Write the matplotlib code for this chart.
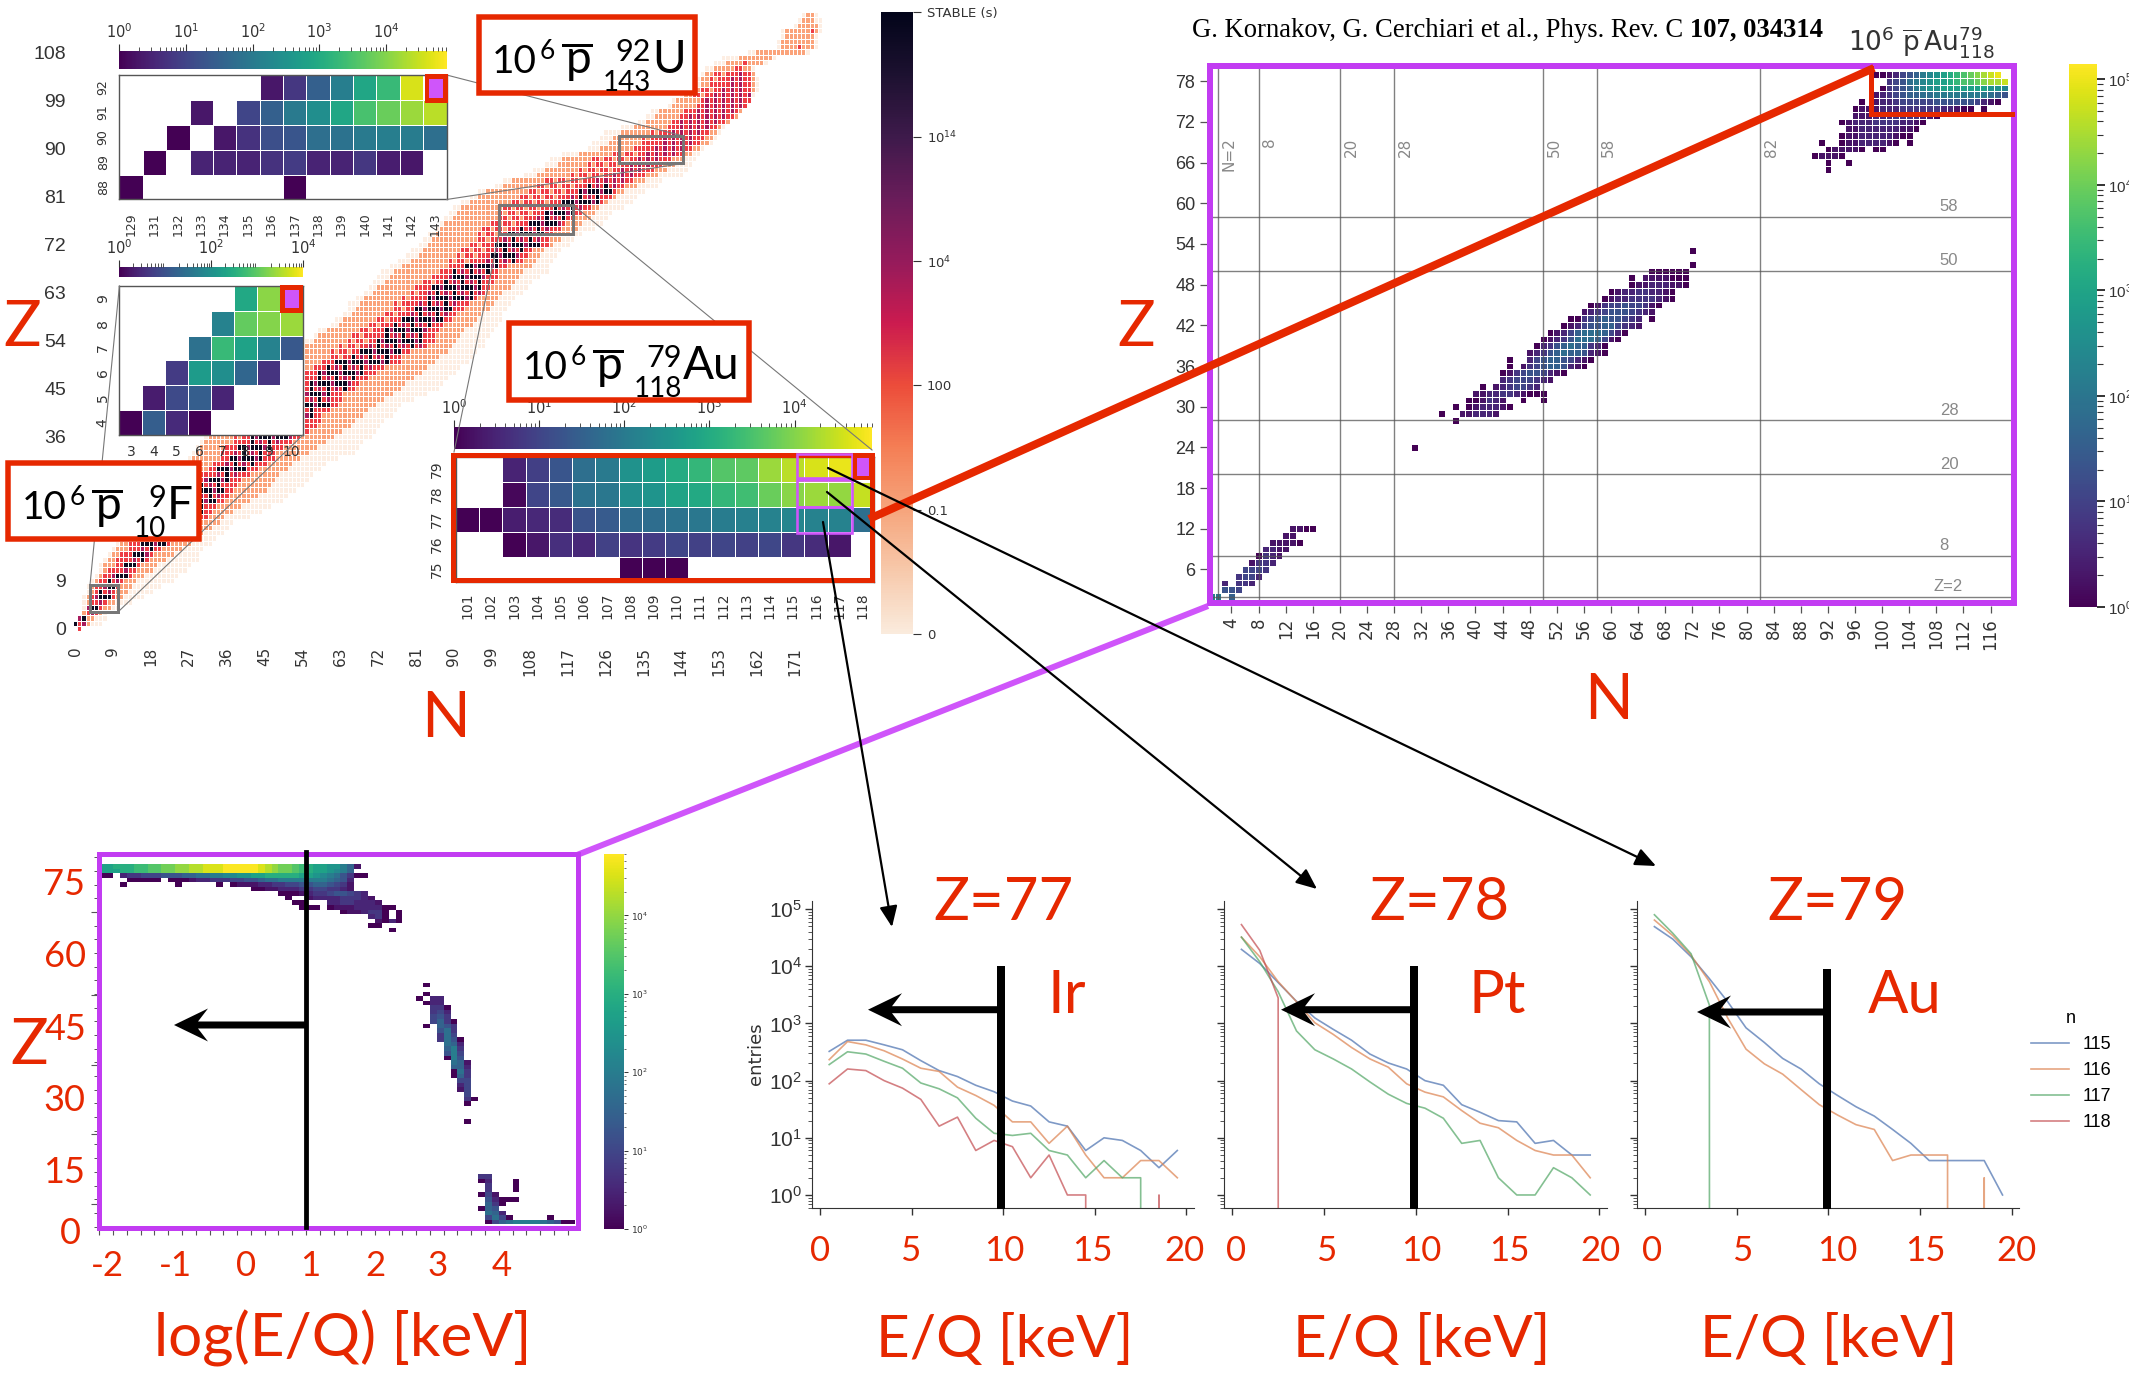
"""Composite figure: nuclide chart, fragment maps and E/Q spectra after 10^6 antiprotons."""

import matplotlib

matplotlib.use("Agg")

import matplotlib.pyplot as plt
import numpy as np
from matplotlib.cm import ScalarMappable
from matplotlib.colors import LinearSegmentedColormap, ListedColormap, LogNorm, Normalize
from matplotlib.font_manager import FontProperties
from matplotlib.patches import Polygon, Rectangle
from matplotlib.ticker import LogLocator, MultipleLocator, NullFormatter

W, H = 2129, 1376
RED = "#e62800"
PURPLE = "#c23cf2"
MAGENTA = "#cf55fa"
BIG = "Lato"
NARROW = ["Liberation Sans", "DejaVu Sans"]
plt.rcParams["mathtext.default"] = "regular"

# nuclide chart, one value per Z = 0..115: N limits of each lifetime band
chart_lo = [1, 0, 1, 2, 2, 2, 2, 3, 3, 4,
            5, 6, 6, 7, 8, 9, 10, 11, 12, 13,
            14, 15, 16, 17, 18, 19, 20, 21, 22, 24,
            25, 26, 27, 28, 29, 30, 31, 33, 34, 35,
            36, 37, 38, 39, 41, 42, 43, 44, 45, 46,
            48, 50, 52, 53, 55, 57, 58, 61, 62, 64,
            65, 65, 67, 69, 70, 71, 72, 73, 75, 77,
            79, 80, 82, 83, 84, 86, 87, 88, 89, 90,
            92, 94, 96, 100, 102, 107, 109, 112, 113, 116,
            122, 123, 125, 126, 130, 134, 136, 137, 141, 142,
            144, 146, 148, 148, 149, 150, 152, 154, 160, 167,
            167, 168, 168, 171, 172, 173]
chart_orange_lo = [1, 0, 1, 2, 3, 3, 3, 4, 4, 5,
                   6, 7, 7, 8, 9, 10, 11, 12, 13, 14,
                   15, 16, 17, 18, 19, 20, 21, 22, 23, 25,
                   26, 27, 28, 29, 30, 31, 32, 34, 35, 36,
                   37, 38, 39, 40, 42, 43, 44, 45, 47, 48,
                   50, 52, 53, 55, 57, 58, 60, 63, 64, 66,
                   67, 68, 69, 71, 72, 74, 75, 76, 78, 80,
                   82, 83, 84, 85, 86, 87, 88, 90, 91, 92,
                   94, 96, 98, 102, 104, 110, 112, 115, 116, 120,
                   125, 127, 128, 130, 133, 136, 138, 139, 142, 143,
                   145, 147, 149, 149, 150, 152, 155, 158, 162, 168,
                   168, 169, 169, 172, 173, 174]
chart_red_lo = [1, 0, 1, 3, 3, 4, 4, 5, 5, 6,
                7, 8, 9, 10, 11, 12, 13, 14, 15, 16,
                17, 18, 19, 20, 21, 22, 23, 24, 25, 27,
                32, 33, 34, 35, 36, 37, 38, 40, 41, 43,
                44, 45, 46, 47, 49, 50, 51, 52, 54, 56,
                58, 60, 61, 63, 65, 66, 68, 70, 71, 73,
                75, 76, 78, 80, 81, 82, 84, 86, 88, 89,
                91, 92, 94, 95, 96, 97, 98, 100, 101, 102,
                104, 105, 107, 110, 112, 118, 120, 122, 123, 128,
                132, 134, 135, 137, 140, 142, 144, 145, 148, 149,
                147, 149, 150, 151, 152, 156, 158, 200, 200, 172,
                200, 200, 175, 200, 200, 200]
chart_core_lo = [999, 0, 1, 3, 3, 5, 5, 6, 7, 8,
                 9, 11, 12, 13, 14, 15, 16, 18, 19, 20,
                 21, 23, 24, 26, 27, 28, 29, 30, 31, 33,
                 34, 35, 37, 38, 39, 41, 42, 44, 45, 47,
                 48, 50, 51, 52, 54, 55, 56, 57, 58, 60,
                 62, 66, 68, 70, 72, 73, 74, 76, 78, 80,
                 81, 82, 84, 84, 85, 88, 89, 90, 93, 98,
                 99, 100, 100, 101, 103, 106, 108, 110, 112, 113,
                 116, 118, 120, 122, 124, 128, 130, 132, 134, 136,
                 137, 139, 140, 142, 143, 144, 145, 147, 149, 150,
                 152, 154, 155, 156, 157, 999, 999, 999, 999, 999,
                 999, 999, 999, 999, 999, 999]
chart_core_hi = [0, 2, 2, 4, 5, 6, 8, 8, 9, 10,
                 12, 13, 14, 16, 17, 18, 21, 22, 24, 25,
                 27, 29, 30, 31, 33, 34, 35, 35, 36, 38,
                 40, 42, 44, 44, 46, 48, 51, 52, 54, 55,
                 56, 57, 60, 60, 60, 64, 65, 66, 68, 71,
                 74, 74, 77, 83, 82, 83, 83, 85, 87, 88,
                 89, 90, 94, 96, 96, 97, 97, 98, 100, 104,
                 105, 106, 110, 110, 111, 112, 115, 116, 118, 120,
                 124, 125, 127, 128, 130, 132, 134, 136, 138, 143,
                 145, 146, 147, 148, 150, 153, 155, 156, 158, 159,
                 160, 158, 158, 158, 158, 0, 0, 0, 0, 0,
                 0, 0, 0, 0, 0, 0]
chart_red_hi = [1, 2, 2, 5, 6, 7, 9, 9, 10, 11,
                13, 14, 15, 17, 18, 20, 22, 24, 25, 27,
                29, 31, 32, 33, 35, 36, 37, 38, 39, 41,
                43, 45, 47, 48, 50, 52, 54, 55, 57, 58,
                59, 60, 62, 63, 64, 66, 68, 70, 72, 74,
                77, 78, 79, 83, 85, 85, 86, 87, 89, 90,
                92, 93, 95, 97, 98, 99, 100, 101, 103, 106,
                107, 108, 112, 112, 113, 115, 116, 118, 120, 122,
                125, 127, 128, 130, 132, 135, 137, 139, 141, 144,
                146, 148, 149, 150, 152, 154, 156, 157, 159, 160,
                160, 160, 160, 160, 160, 159, 159, 0, 0, 172,
                0, 0, 175, 0, 0, 0]
chart_orange_hi = [1, 3, 4, 6, 8, 9, 11, 12, 13, 14,
                   16, 18, 19, 21, 23, 25, 27, 28, 30, 32,
                   34, 35, 37, 39, 41, 43, 45, 46, 47, 48,
                   50, 51, 53, 55, 57, 59, 61, 63, 65, 66,
                   68, 69, 71, 73, 75, 77, 78, 80, 82, 83,
                   85, 86, 88, 89, 90, 91, 92, 94, 95, 96,
                   98, 99, 100, 101, 103, 104, 105, 106, 108, 109,
                   110, 111, 113, 115, 117, 119, 120, 122, 123, 124,
                   126, 128, 130, 133, 135, 138, 140, 142, 144, 146,
                   148, 150, 151, 152, 153, 155, 157, 158, 159, 160,
                   160, 161, 161, 161, 161, 160, 163, 165, 173, 175,
                   175, 175, 176, 176, 175, 175]
chart_hi = [1, 6, 7, 7, 10, 13, 16, 18, 20, 23,
            24, 26, 27, 29, 29, 30, 32, 33, 35, 36,
            37, 41, 44, 46, 49, 50, 52, 54, 55, 56,
            58, 59, 62, 66, 67, 68, 70, 71, 72, 73,
            75, 76, 77, 80, 83, 86, 87, 88, 90, 91,
            93, 94, 95, 97, 97, 98, 99, 100, 101, 101,
            102, 103, 104, 106, 107, 108, 110, 112, 112, 113,
            114, 115, 117, 118, 120, 123, 125, 126, 127, 130,
            132, 133, 135, 138, 139, 144, 145, 146, 147, 148,
            149, 151, 152, 153, 154, 155, 157, 158, 159, 160,
            161, 162, 162, 162, 161, 161, 164, 166, 174, 176,
            176, 176, 177, 177, 177, 176]
lifetime_colors = ["#fdeee3", "#fba37a", "#ee3d45", "#a81b5d", "#0c0a20"]
lifetime_ticks = ["0", "0.1", "100", "$10^{4}$", "$10^{14}$", "STABLE (s)"]

# U inset (rows top to bottom, 0 = empty, -1 = selected isotope)
u_z = [92, 91, 90, 89, 88]
u_n = [129, 131, 132, 133, 134, 135, 136, 137, 138, 139, 140, 141, 142, 143]
u_counts = [
    [0, 0, 0, 0, 0, 0, 2, 6, 30, 120, 800, 2000, 40000, -1],
    [0, 0, 0, 2, 0, 10, 30, 100, 250, 800, 3000, 6000, 15000, 25000],
    [0, 0, 1, 0, 2, 5, 15, 20, 60, 70, 100, 120, 110, 60],
    [0, 1, 0, 3, 3, 3, 5, 7, 3, 3, 6, 2.5, 2, 0],
    [1, 0, 0, 0, 0, 0, 0, 1, 0, 0, 0, 0, 0, 0],
]

# F inset
f_z = [9, 8, 7, 6, 5, 4]
f_n = [3, 4, 5, 6, 7, 8, 9, 10]
f_counts = [
    [0, 0, 0, 0, 0, 250, 2000, -1],
    [0, 0, 0, 0, 60, 1100, 1800, 2500],
    [0, 0, 0, 30, 500, 200, 60, 12],
    [0, 0, 5, 150, 90, 20, 4, 0],
    [0, 2, 8, 15, 2.5, 0, 0, 0],
    [1, 15, 3, 1, 0, 0, 0, 0],
]

# Au inset
au_inset_z = [79, 78, 77, 76, 75]
au_inset_n = list(range(101, 119))
au_inset_counts = [
    [0, 0, 3, 8, 20, 60, 100, 300, 500, 1000, 1800, 4000, 5000, 15000, 25000, 40000, 55000, -1],
    [0, 0, 1.2, 10, 22, 70, 90, 250, 350, 700, 900, 1800, 2500, 6000, 11000, 15000, 13000, 30000],
    [1, 1, 2.5, 3.5, 4, 18, 25, 50, 55, 70, 90, 110, 130, 150, 170, 150, 150, 60],
    [0, 0, 1, 2, 4.5, 3.5, 9, 5.5, 7, 10, 9, 10, 9, 11, 6, 4, 2, 0],
    [0, 0, 0, 0, 0, 0, 0, 1, 1, 1, 0, 0, 0, 0, 0, 0, 0, 0],
]

# Z-N map of the fragments: base-36 brightness code per cell, blank = no entries
map_z = [79, 78, 77, 76, 75, 74, 73, 72, 71, 70, 69, 68, 67, 66, 65,
         53, 51, 50, 49, 48, 47, 46, 45, 44, 43, 42, 41, 40, 39, 38, 37, 36, 35, 34, 33, 32, 31, 30, 29, 28, 24,
         12, 11, 10, 9, 8, 7, 6, 5, 4, 3, 2]
map_start = [99, 101, 100, 99, 97, 96, 96, 94, 95, 94, 91, 92, 90, 92, 92,
             72, 72, 66, 63, 63, 60, 59, 57, 56, 54, 53, 51, 50, 49, 48, 45, 45, 44, 44, 41, 40, 39, 37, 35, 37, 31,
             13, 12, 10, 9, 8, 7, 6, 5, 3, 3, 1]
map_levels = ["001245689abcdefghij", "345789abbcdeefghhi", "0345689aabbbbbbbaa9",
              "12345667788888888765", "0 1223444445555554210", "011122233333322100 0",
              "1112223333210", "0122233332210", "11222222110", "01122222100",
              "0  011222210 0", "011110 00", "01110", "0  0", "0",
              "0", "0", "000000", "0 1111000", "011222110", "0122332210", "01223333210",
              "01344544310", "12345554321", "00345655432 0", "012455664321", "012467776420",
              "012357776410", "02356766320", "123567665210", "0  2456654210", "0 1345665210",
              "0134554210", "23444321", "0 1234432", "11223321000", "001321  0  0",
              "0 0122210", "0  112221", "0", "0",
              "1100", "11", "11110", "2211", "0321", "1332", "4443", "3442", "2 332", "554", "88 6"]
magic_numbers = [2, 8, 20, 28, 50, 58, 82]
magic_z = [2, 8, 20, 28, 50, 58]

# log(E/Q)-Z map, 0.1 wide bins starting at -2
log_z = [79, 78, 77, 76, 75, 74, 73, 72, 71, 70, 69, 68, 67, 66, 65,
         53, 51, 50, 49, 48, 47, 46, 45, 44, 43, 42, 41, 40, 39, 38, 37, 36, 35, 34, 33, 32, 31, 30, 29, 28, 27, 23,
         11, 10, 9, 8, 7, 6, 5, 4, 3, 2, 1]
log_start = [0, 0, 0, 0, 0, 22, 26, 27, 28, 29, 35, 39, 40, 39, 42,
             47, 47, 46, 47, 48, 48, 48, 48, 47, 49, 49, 49, 50, 50, 50, 50, 51, 51, 51, 51, 52, 52, 52, 53, 53, 53, 53,
             55, 55, 56, 56, 55, 56, 56, 55, 56, 56, 56]
log_levels = ["bbcccddeeffgghhiiijjjjjihgffedcbbaa861", "bbbccddeeffgghhiiijjjjjihgffedcbba986",
              "00 23344455566778899aabbcccccbba9875300",
              "    00000 000122333445567788888887652", "   0       0     0 011122334455665431",
              "001122233443321", "0001233455432", "0  1222233321", "00   22332221", "000 0111222200",
              "0112330 0", "230 0", "1020", "00", "0",
              "0", "0", "0 22", "022", "330", "342", "453", "4630", "0 653", "573", "374", "3750",
              "762", "683", "584", "085", "761", "662", "073", "063", "44", "24", "14", "4", "30", "0", "0",
              "33", "02   0", "3   0", "3   0", "041", "52000", "630", "065", "762", "4740     0", "0467888876500"]
log_major_z = [68.9, 50.7, 35.4, 20.2, 4.9]

# E/Q spectra, bins 0.5 .. 19.5 keV, series by neutron number (0 = empty bin)
eq_bins = [0.5, 1.5, 2.5, 3.5, 4.5, 5.5, 6.5, 7.5, 8.5, 9.5, 10.5, 11.5, 12.5, 13.5, 14.5, 15.5, 16.5, 17.5, 18.5, 19.5]
eq_names = ["115", "116", "117", "118"]
eq_colors = ["#4c72b0", "#dd8452", "#55a868", "#c44e52"]
ir_115 = [325, 510, 510, 423, 347, 224, 150, 118, 83, 64, 44, 36, 19, 16, 6, 10, 9, 6, 3, 6]
ir_116 = [233, 483, 423, 333, 239, 165, 145, 77, 55, 37, 19, 19, 8, 16, 5, 2, 2, 4, 4, 2]
ir_117 = [191, 320, 292, 218, 165, 91, 72, 50, 22, 12, 11, 12, 6, 5, 2, 4, 2, 2, 0, 0]
ir_118 = [88, 160, 150, 100, 74, 47, 16, 23, 6, 9, 7, 2, 5, 1, 1, 0, 0, 0, 1, 0]
pt_115 = [19800, 11200, 5200, 2440, 1250, 790, 510, 292, 204, 160, 100, 83, 38, 28, 20, 19, 8, 9, 5, 5]
pt_116 = [32400, 14700, 5400, 2400, 1030, 645, 380, 240, 172, 88, 63, 52, 30, 18, 15, 9, 6, 5, 5, 2]
pt_117 = [32400, 12000, 3600, 740, 347, 240, 160, 95, 58, 40, 33, 22, 8, 9, 2, 1, 1, 3, 2, 1]
pt_118 = [53700, 19000, 2800, 0, 0, 0, 0, 0, 0, 0, 0, 0, 0, 0, 0, 0, 0, 0, 0, 0]
au_115 = [49500, 30000, 14700, 6100, 2400, 840, 465, 245, 160, 88, 55, 35, 24, 14, 8, 4, 4, 4, 4, 1]
au_116 = [64500, 34500, 15600, 5400, 1250, 356, 197, 130, 70, 38, 25, 17, 14, 4, 5, 5, 5, 0, 2, 0]
au_117 = [79900, 38000, 16600, 2100, 0, 0, 0, 0, 0, 0, 0, 0, 0, 0, 0, 0, 0, 0, 0, 0]
au_118 = [0, 0, 0, 0, 0, 0, 0, 0, 0, 0, 0, 0, 0, 0, 0, 0, 0, 0, 0, 0]


def px_axes(x0, y0, x1, y1, zorder=1):
    return fig.add_axes([x0 / W, 1 - y1 / H, (x1 - x0) / W, (y1 - y0) / H], zorder=zorder)


def px(width):
    return width * 0.72


def code_grid(zs, starts, rows, n_min, n_max, z_min, z_max):
    grid = np.full((z_max - z_min + 1, n_max - n_min + 1), np.nan)
    for z, start, row in zip(zs, starts, rows):
        for i, char in enumerate(row):
            if char != " ":
                grid[z - z_min, start + i - n_min] = int(char, 36)
    return grid


def log_colorbar(cax, norm, orientation, size, color="#333333"):
    bar = fig.colorbar(ScalarMappable(norm, "viridis"), cax=cax, orientation=orientation)
    bar.outline.set_visible(False)
    axis = cax.xaxis if orientation == "horizontal" else cax.yaxis
    axis.set_major_locator(LogLocator(base=10, numticks=8))
    axis.set_minor_locator(LogLocator(base=10, subs=range(2, 10), numticks=8))
    axis.set_minor_formatter(NullFormatter())
    cax.tick_params(which="both", colors=color, labelsize=size)
    return bar


def inset(rect, bar_rect, counts, cols, rows, vmax, major, row_x, col_y, size):
    x0, y0, x1, y1 = rect
    ax = px_axes(x0, y0, x1, y1, zorder=3)
    data = np.array(counts, dtype=float)
    data[data == 0] = np.nan
    data[data == -1] = np.nan
    norm = LogNorm(1, vmax)
    ax.pcolormesh(np.ma.masked_invalid(data), cmap="viridis", norm=norm, edgecolors="white", linewidth=0.6)
    ax.invert_yaxis()
    ax.set_xticks(np.arange(len(cols)) + 0.5, [str(c) for c in cols], rotation=90 if cols[0] > 50 else 0, fontsize=size, color="#333333")
    ax.set_yticks(np.arange(len(rows)) + 0.5, [str(r) for r in rows], rotation=90, va="center", fontsize=size, color="#333333")
    ax.tick_params(length=0, pad=(row_x))
    ax.tick_params(axis="x", pad=col_y)
    for spine in ax.spines.values():
        spine.set_color("#555555")
        spine.set_linewidth(1)
    cax = px_axes(*bar_rect, zorder=3)
    log_colorbar(cax, norm, "horizontal", 10.5)
    cax.xaxis.set_ticks_position("top")
    cax.xaxis.set_major_locator(LogLocator(base=10, subs=(1,), numticks=major))
    cax.tick_params(which="major", length=5, width=0.8, pad=2)
    cax.tick_params(which="minor", length=3, width=0.6)
    return ax


def boxed_label(x0, y0, x1, y1, sup, sub, symbol, sym_x):
    over.add_patch(Rectangle((x0 + 2.5, y0 + 2.5), x1 - x0 - 5, y1 - y0 - 5, fc="white", ec=RED, lw=px(5.5), zorder=5))
    base = y0 + 58
    over.text(x0 + 16, base, "10", family=BIG, fontsize=28, va="baseline", zorder=6)
    over.text(x0 + 64, y0 + 44, "6", family=BIG, fontsize=19, va="baseline", zorder=6)
    over.plot([x0 + 87, x0 + 115], [y0 + 30, y0 + 30], color="black", lw=px(3), zorder=6)
    over.text(x0 + 90, base, "p", family=BIG, fontsize=33, va="baseline", zorder=6)
    over.text(x0 + sym_x - 1, y0 + 46, sup, family=BIG, fontsize=22, va="baseline", ha="right", zorder=6)
    over.text(x0 + sym_x - 1, y0 + 76, sub, family=BIG, fontsize=20, va="baseline", ha="right", zorder=6)
    over.text(x0 + sym_x, base, symbol, family=BIG, fontsize=33, va="baseline", zorder=6)


def selected_cell(red_box, magenta_box):
    for box, color, order in ((red_box, RED, 5), (magenta_box, MAGENTA, 6)):
        over.add_patch(Rectangle((box[0], box[1]), box[2] - box[0], box[3] - box[1], fc=color, ec="none", zorder=order))


def red_text(x, y, text, size):
    over.text(x, y + 3, text, family=BIG, color=RED, fontsize=size, ha="center", va="center", zorder=7)


def cut_arrow(tip, y, end):
    shape = [(tip, y), (tip + 34, y - 16.5), (tip + 24, y - 3.5), (end, y - 3.5),
             (end, y + 3.5), (tip + 24, y + 3.5), (tip + 34, y + 16.5)]
    over.add_patch(Polygon(shape, closed=True, fc="black", ec="none", zorder=7))


fig = plt.figure(figsize=((W + 0.01) / 100, (H + 0.01) / 100), dpi=100, facecolor="white")

over = px_axes(0, 0, W, H, zorder=10)
over.set_xlim(0, W)
over.set_ylim(H, 0)
over.axis("off")
over.patch.set_alpha(0)

# nuclide chart
chart = px_axes(72.9, 9.3, 826.5, 631.4)
levels = np.full((116, 179), np.nan)
for z in range(116):
    for n in range(chart_lo[z], chart_hi[z] + 1):
        if chart_core_lo[z] <= n <= chart_core_hi[z]:
            if z >= 84:
                level = 3 if n % 2 == 0 else 2
            elif z % 2 == 0 or n % 2 == 0:
                level = 4 if (n + z) % 4 != 3 else 3
            else:
                level = 2
        elif chart_red_lo[z] <= n <= chart_red_hi[z]:
            far_out = n < chart_core_lo[z] - 2 or n > chart_core_hi[z] + 2
            level = 1 if far_out and (n + z) % 3 == 0 else 2
        elif chart_orange_lo[z] <= n <= chart_orange_hi[z]:
            level = 1
        else:
            level = 0
        levels[z, n] = level
chart.pcolormesh(np.arange(180) - 0.5, np.arange(117) - 0.5, np.ma.masked_invalid(levels),
                 cmap=ListedColormap(lifetime_colors), vmin=-0.5, vmax=4.5, edgecolors="white", linewidth=0.6)
chart.set_xlim(-0.5, 178.5)
chart.set_ylim(-0.5, 116)
for spine in chart.spines.values():
    spine.set_visible(False)
chart.set_xticks(range(0, 172, 9), [str(v) for v in range(0, 172, 9)], rotation=90, fontsize=11, color="#333333")
chart.set_yticks(range(0, 109, 9), [str(v) for v in range(0, 109, 9)], fontsize=14, family=NARROW, color="#333333")
chart.tick_params(length=0)
chart.tick_params(axis="x", pad=11)
chart.tick_params(axis="y", pad=5)

rocket = LinearSegmentedColormap.from_list("lifetime", [
    "#faebdd", "#f7c9ab", "#f6a47b", "#f47e55", "#ec4c3a", "#cb1b4f", "#951b5b", "#6a1c5a", "#3e1a4b", "#1d1130", "#03051a"])
life_cax = px_axes(881, 12.4, 913, 634, zorder=2)
life_bar = fig.colorbar(ScalarMappable(Normalize(0, 5), rocket), cax=life_cax)
life_bar.outline.set_visible(False)
life_bar.set_ticks(range(6), labels=lifetime_ticks)
life_cax.tick_params(labelsize=9.5, length=6, colors="#333333", pad=4)

# insets and their zoom marks
inset((119.4, 75, 446.6, 199.5), (119.4, 51, 446.6, 69.4), u_counts, u_n, u_z, 81000, 6, 7, 9, 9)
inset((119.4, 286, 303, 435), (119.4, 266.7, 303, 277.5), f_counts, f_n, f_z, 10000, 3, 7, 7, 10)
inset((456, 456.7, 874, 581.7), (454, 426.7, 872, 449), au_inset_counts, au_inset_n, au_inset_z, 81000, 6, 9, 8, 10)

for x0, y0, x1, y1 in ((619, 136, 683, 163.5), (499, 205, 573, 234), (90, 585, 118, 612)):
    over.add_patch(Rectangle((x0, y0), x1 - x0, y1 - y0, fc="none", ec="#777777", lw=px(3), zorder=2))
for xs, ys in (([446.6, 683], [75, 136]), ([446.6, 683], [199.5, 163.5]), ([573, 872], [205, 450]),
               ([499, 454], [234, 452]), ([90, 119.4], [585, 286]), ([118, 303], [612, 435])):
    over.plot(xs, ys, color="#777777", lw=0.8, zorder=1)

over.add_patch(Rectangle((453.3, 455), 419, 125, fc="none", ec=RED, lw=px(5), zorder=4))
for y0, y1 in ((454, 478), (480, 507), (507, 533)):
    over.add_patch(Rectangle((796.7, y0), 55, y1 - y0, fc="none", ec=MAGENTA, lw=px(2.6), zorder=5))
selected_cell((425, 73.7, 447.8, 102.8), (429.4, 79.4, 443, 97.6))
selected_cell((280, 285, 303, 313), (285, 289.7, 299, 308))
selected_cell((853, 453, 873, 480.5), (856.7, 458, 869.3, 475.7))

boxed_label(476, 15, 697, 96, "92", "143", "U", 176)
boxed_label(506.7, 320.7, 751.7, 402.7, "79", "118", "Au", 176.6)
boxed_label(5.7, 461, 201, 542, "9", "10", "F", 161)

# fragment map, Z against N
frag = px_axes(1207, 64, 2017, 606)
frag_codes = code_grid(map_z, map_start, map_levels, 1, 119, 1, 80)
frag_norm = LogNorm(1, 1.4e5)
frag.pcolormesh(np.arange(1, 121) - 0.5, np.arange(1, 82) - 0.5, np.ma.masked_invalid(10 ** (frag_codes / 3.8)),
                cmap="viridis", norm=frag_norm, edgecolors="white", linewidth=0.6)
frag.set_xlim(0.39, 119.9)
frag.set_ylim(0.6, 80.55)
frag.set_xticks(range(4, 117, 4), [str(v) for v in range(4, 117, 4)], rotation=90, fontsize=12, color="#333333")
frag.set_yticks(range(6, 79, 6), [str(v) for v in range(6, 79, 6)], fontsize=13, family=NARROW, color="#333333")
frag.tick_params(length=5, width=0.9, color="#555555")
for spine in frag.spines.values():
    spine.set_visible(False)
for value in magic_numbers:
    frag.axvline(value, color="#555555", lw=1, alpha=0.75, zorder=3)
    frag.text(value + 0.55, 69.7, ("N=" if value == 2 else "") + str(value), rotation=90, color="#888888",
              fontsize=11, ha="left", va="top", zorder=4)
for value in magic_z:
    frag.axhline(value, color="#555555", lw=1, alpha=0.75, zorder=3)
    frag.text(108.5 if value > 2 else 107.6, value + 0.4, ("Z=" if value == 2 else "") + str(value), color="#888888",
              fontsize=12, family=NARROW, ha="left", va="bottom", zorder=4)
frag_cax = px_axes(2068.6, 64, 2097, 607)
log_colorbar(frag_cax, frag_norm, "vertical", 11)
frag_cax.tick_params(which="major", length=6, width=1.4, pad=2, labelfontfamily=NARROW)
frag_cax.tick_params(which="minor", length=4, width=0.8)

over.plot([869, 1874], [519, 68], color=RED, lw=px(8), solid_capstyle="butt", zorder=4)
over.plot([1871, 1871, 2012], [68, 113.6, 113.6], color=RED, lw=px(5), solid_joinstyle="miter", zorder=4)
over.add_patch(Rectangle((1210, 66), 803.5, 537, fc="none", ec=PURPLE, lw=px(6), zorder=3))
over.plot([1208, 577], [606, 855], color=MAGENTA, lw=px(6), solid_capstyle="butt", zorder=3)

head = over.text(1192, 30, "G. Kornakov, G. Cerchiari et al., Phys. Rev. C ", family="Liberation Serif", fontsize=19.2, va="center", zorder=6)
head_end = head.get_window_extent(fig.canvas.get_renderer()).x1
over.text(head_end, 30, "107, 034314", family="Liberation Serif", fontweight="bold", fontsize=19.2, va="center", zorder=6)
over.text(1848, 42, r"$10^{6}\ \overline{p}\,Au^{79}_{118}$", fontsize=19, color="#333333", va="center", zorder=6)

# log(E/Q) map
log_ax = px_axes(97.3, 854.4, 578, 1228.7)
log_codes = code_grid(log_z, log_start, log_levels, 0, 69, 0, 82)
log_norm = LogNorm(1, 6e4)
log_ax.pcolormesh(-2 + 0.1 * np.arange(71), np.arange(84) - 0.5, np.ma.masked_invalid(10 ** (log_codes / 4)),
                  cmap="viridis", norm=log_norm)
log_ax.set_xlim(-2.03, 4.95)
log_ax.set_ylim(-0.46, 81.6)
log_ax.xaxis.set_major_locator(MultipleLocator(0.2))
log_ax.yaxis.set_minor_locator(MultipleLocator(3))
log_ax.set_yticks(log_major_z)
log_ax.tick_params(labelbottom=False, labelleft=False, length=4, width=0.8, color="#555555")
log_ax.tick_params(which="minor", length=2.5, width=0.7, color="#555555")
for spine in log_ax.spines.values():
    spine.set_visible(False)
log_cax = px_axes(604, 854.4, 623.7, 1229)
log_colorbar(log_cax, log_norm, "vertical", 6.5)
log_cax.tick_params(which="major", length=3, width=0.7, pad=2)
log_cax.tick_params(which="minor", length=1.5, width=0.5)

over.add_patch(Rectangle((99, 854.4), 479, 373.6, fc="none", ec=PURPLE, lw=px(5), zorder=3))
over.plot([305.8, 305.8], [851.6, 1227], color="black", lw=px(4.8), zorder=7)
cut_arrow(174, 1025, 305)

for text, y, x in (("75", 881.5, 64), ("60", 953.6, 64.7), ("45", 1026.7, 66), ("30", 1097, 64.7), ("15", 1169.5, 64), ("0", 1230, 70.5)):
    red_text(x, y, text, 26)
for text, x in (("-2", 107), ("-1", 175), ("0", 246), ("1", 310), ("2", 375), ("3", 438), ("4", 502)):
    red_text(x, 1263, text, 25)
red_text(343, 1335, "log(E/Q) [keV]", 43.4)

red_text(22, 325, "Z", 45)
red_text(1136, 325, "Z", 45)
red_text(446, 716, "N", 46)
red_text(1609, 698, "N", 46)
red_text(29, 1043, "Z", 45)

# E/Q spectra
panels = [
    (811.8, 1193.8, (ir_115, ir_116, ir_117, ir_118), "Z=77", 1003, "Ir", 1066.6),
    (1224, 1606.7, (pt_115, pt_116, pt_117, pt_118), "Z=78", 1439, "Pt", 1497.6),
    (1637, 2019, (au_115, au_116, au_117, au_118), "Z=79", 1837, "Au", 1905),
]
tick_text_x = [[820, 910.5, 1004.6, 1092.8, 1184.6], [1236.5, 1326, 1421, 1509, 1600], [1652, 1742, 1837, 1925, 2016]]
for index, (x0, x1, series, title, title_x, element, element_x) in enumerate(panels):
    ax = px_axes(x0, 901, x1, 1208.5)
    for values, name, color in zip(series, eq_names, eq_colors):
        ax.plot(eq_bins, values, color=color, lw=1.2, alpha=0.72, label=name)
    ax.set_yscale("log")
    ax.set_xlim(-0.45, 20.4)
    ax.set_ylim(0.58, 1.39e5)
    ax.set_xticks([0, 5, 10, 15, 20], [])
    ax.spines["top"].set_visible(False)
    ax.spines["right"].set_visible(False)
    ax.spines["left"].set_color("#333333")
    ax.spines["bottom"].set_color("#333333")
    ax.yaxis.set_minor_locator(LogLocator(base=10, subs=range(2, 10), numticks=8))
    ax.yaxis.set_minor_formatter(NullFormatter())
    ax.tick_params(which="major", length=5, width=1, color="#333333")
    ax.tick_params(which="minor", length=3, width=0.7, color="#555555")
    if index == 0:
        ax.tick_params(axis="y", which="major", labelsize=15, labelcolor="#333333", pad=2, labelfontfamily=NARROW)
        over.text(756, 1054, "entries", rotation=90, fontsize=13, color="#333333", ha="center", va="center")
    else:
        ax.tick_params(axis="y", which="major", labelleft=False)
    red_text(title_x, 900, title, 43)
    red_text(element_x, 993, element, 43)
    for tick_x, text in zip(tick_text_x[index], ("0", "5", "10", "15", "20")):
        red_text(tick_x, 1247.6, text, 25)
    red_text((1004.6, 1421.6, 1829)[index], 1337, "E/Q [keV]", 42)
    if index == 2:
        ax.legend(title="n", loc="upper left", bbox_to_anchor=(2031 / W, 1 - 1010 / H), bbox_transform=fig.transFigure,
                  frameon=False, borderpad=0, borderaxespad=0, labelspacing=0.5, handlelength=2.1, handletextpad=0.75,
                  prop=FontProperties(family=NARROW, size=13), title_fontproperties=FontProperties(family=NARROW, size=13))

for x_line, y0_line, tip, y_arrow in ((1000.8, 966.3, 868, 1009.7), (1414, 966.3, 1281, 1009.7), (1827, 968.6, 1697, 1012)):
    over.plot([x_line, x_line], [y0_line, 1209.5], color="black", lw=px(8), solid_capstyle="butt", zorder=7)
    cut_arrow(tip, y_arrow, x_line)

for start, tip in (((828, 468), (1656, 866)), ((827, 492), (1317, 889)), ((823, 522), (892, 927))):
    over.annotate("", xy=tip, xytext=start, zorder=8,
                  arrowprops=dict(arrowstyle="-|>,head_length=0.7,head_width=0.3", color="black", lw=1.6,
                                  shrinkA=0, shrinkB=0, mutation_scale=18))

fig.savefig("out.png", dpi=100)
plt.close(fig)
